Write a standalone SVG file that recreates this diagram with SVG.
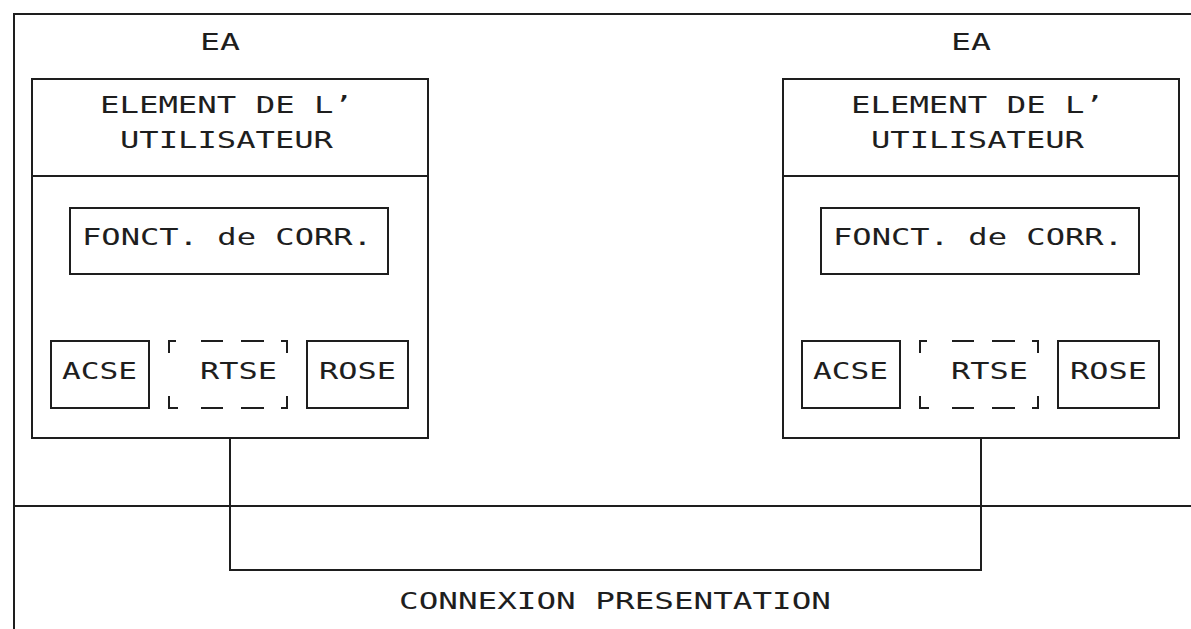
<svg xmlns="http://www.w3.org/2000/svg" width="1191" height="629" viewBox="0 0 1191 629">
<style>
.ln{fill:none;stroke:#1e1e1e;stroke-width:2;stroke-linecap:square}
.t{font-family:"DejaVu Sans Mono","Liberation Mono",monospace;font-size:23px;fill:#1e1e1e}
</style>
<rect width="1191" height="629" fill="#ffffff"/>
<g id="frame">
<path class="ln" d="M14,629 V14 H1191"/>
<path class="ln" d="M14,506 H1191"/>
</g>
<defs>
<g id="ea">
<rect class="ln" x="32" y="79" width="396" height="359"/>
<line class="ln" x1="32" y1="176" x2="428" y2="176"/>
<text class="t" x="200" y="50" textLength="40" lengthAdjust="spacingAndGlyphs">EA</text>
<text class="t" x="100" y="113" textLength="253" lengthAdjust="spacingAndGlyphs">ELEMENT DE L’</text>
<text class="t" x="120" y="148" textLength="213" lengthAdjust="spacingAndGlyphs">UTILISATEUR</text>
<rect class="ln" x="70" y="208" width="318" height="66"/>
<text class="t" x="82" y="245" textLength="290" lengthAdjust="spacingAndGlyphs">FONCT. de CORR.</text>
<rect class="ln" x="51" y="341" width="98" height="67"/>
<text class="t" x="62" y="379" textLength="75" lengthAdjust="spacingAndGlyphs">ACSE</text>
<path class="ln" d="M169,352 V341 H175 M202,341 H222 M242,341 H263 M282,341 H287 V352 M169,397 V408 H177 M202,408 H222 M242,408 H263 M282,408 H287 V397"/>
<text class="t" x="200" y="379" textLength="77" lengthAdjust="spacingAndGlyphs">RTSE</text>
<rect class="ln" x="307" y="341" width="101" height="67"/>
<text class="t" x="319" y="379" textLength="77" lengthAdjust="spacingAndGlyphs">ROSE</text>
</g>
</defs>
<g id="ea-left"><use href="#ea"/></g>
<g id="ea-right"><use href="#ea" transform="translate(751,0)"/></g>
<g id="connectors">
<path class="ln" d="M230,438 V570 H981 V438"/>
</g>
<g id="label-connexion">
<text class="t" x="399" y="609" textLength="432" lengthAdjust="spacingAndGlyphs">CONNEXION PRESENTATION</text>
</g>
</svg>
